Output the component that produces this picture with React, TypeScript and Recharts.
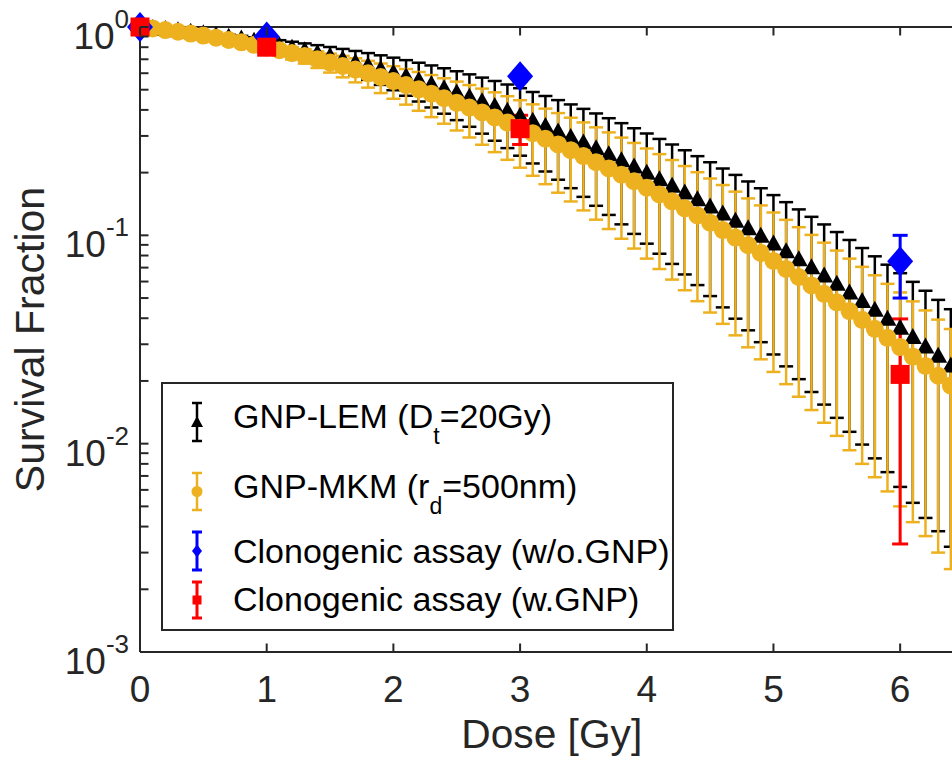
import React from 'react';
import { ComposedChart, Scatter, XAxis, YAxis, ErrorBar, ReferenceLine } from 'recharts';

// dose grid of the two model curves [Gy]
const doses = [
  0, 0.1, 0.2, 0.3, 0.4, 0.5, 0.6, 0.7, 0.8, 0.9,
  1.0, 1.1, 1.2, 1.3, 1.4, 1.5, 1.6, 1.7, 1.8, 1.9,
  2.0, 2.1, 2.2, 2.3, 2.4, 2.5, 2.6, 2.7, 2.8, 2.9,
  3.0, 3.1, 3.2, 3.3, 3.4, 3.5, 3.6, 3.7, 3.8, 3.9,
  4.0, 4.1, 4.2, 4.3, 4.4, 4.5, 4.6, 4.7, 4.8, 4.9,
  5.0, 5.1, 5.2, 5.3, 5.4, 5.5, 5.6, 5.7, 5.8, 5.9,
  6.0, 6.1, 6.2, 6.3, 6.4, 6.5,
];

// GNP-LEM (Dt = 20 Gy)
const lemSurvival = [
  1, 0.9893, 0.9772, 0.9639, 0.9492, 0.9334, 0.9165, 0.8984, 0.8795, 0.8596,
  0.8389, 0.8174, 0.7953, 0.7727, 0.7495, 0.7259, 0.702, 0.6779, 0.6536, 0.6292,
  0.6048, 0.5805, 0.5563, 0.5324, 0.5086, 0.4852, 0.4622, 0.4396, 0.4175, 0.3959,
  0.3748, 0.3544, 0.3345, 0.3153, 0.2967, 0.2788, 0.2616, 0.2451, 0.2292, 0.2141,
  0.1997, 0.1859, 0.1729, 0.1605, 0.1488, 0.1377, 0.1272, 0.1174, 0.1082, 0.0995,
  0.0914, 0.0839, 0.0768, 0.0702, 0.0641, 0.0585, 0.0532, 0.0484, 0.0439, 0.0398,
  0.036, 0.0325, 0.0293, 0.0264, 0.0237, 0.0213,
];
const lemError = [
  0, 0.0005, 0.0019, 0.0042, 0.0074, 0.0114, 0.016, 0.0213, 0.0272, 0.0334,
  0.0401, 0.0471, 0.0542, 0.0614, 0.0687, 0.0758, 0.0828, 0.0895, 0.0959, 0.102,
  0.1077, 0.1128, 0.1175, 0.1215, 0.1251, 0.128, 0.1303, 0.132, 0.1331, 0.1337,
  0.1337, 0.1331, 0.132, 0.1304, 0.1283, 0.1258, 0.123, 0.1198, 0.1163, 0.1125,
  0.1085, 0.1043, 0.1, 0.0956, 0.0911, 0.0866, 0.0821, 0.0776, 0.0732, 0.0688,
  0.0646, 0.0604, 0.0564, 0.0525, 0.0487, 0.0452, 0.0418, 0.0385, 0.0354, 0.0325,
  0.0298, 0.0273, 0.0249, 0.0226, 0.0205, 0.0186,
];

// GNP-MKM (rd = 500 nm)
const mkmSurvival = [
  1, 0.9841, 0.967, 0.9489, 0.9297, 0.9096, 0.8887, 0.867, 0.8445, 0.8215,
  0.7979, 0.7738, 0.7494, 0.7248, 0.6999, 0.6748, 0.6498, 0.6247, 0.5997, 0.5749,
  0.5504, 0.5261, 0.5021, 0.4785, 0.4554, 0.4328, 0.4107, 0.3891, 0.3682, 0.3479,
  0.3282, 0.3092, 0.2908, 0.2732, 0.2562, 0.24, 0.2244, 0.2096, 0.1954, 0.182,
  0.1692, 0.1571, 0.1456, 0.1348, 0.1246, 0.115, 0.106, 0.0976, 0.0897, 0.0823,
  0.0754, 0.069, 0.0631, 0.0575, 0.0524, 0.0477, 0.0433, 0.0393, 0.0356, 0.0322,
  0.0291, 0.0262, 0.0236, 0.0212, 0.019, 0.0171,
];
const mkmError = [
  0, 0.0005, 0.0019, 0.0042, 0.0073, 0.0111, 0.0156, 0.0205, 0.0261, 0.032,
  0.0381, 0.0446, 0.051, 0.0576, 0.0641, 0.0705, 0.0766, 0.0825, 0.088, 0.0932,
  0.098, 0.1022, 0.106, 0.1093, 0.112, 0.1142, 0.1158, 0.1169, 0.1174, 0.1175,
  0.117, 0.1161, 0.1148, 0.113, 0.1108, 0.1083, 0.1055, 0.1024, 0.0991, 0.0956,
  0.0919, 0.0882, 0.0843, 0.0803, 0.0763, 0.0724, 0.0684, 0.0645, 0.0607, 0.0569,
  0.0533, 0.0497, 0.0463, 0.043, 0.0398, 0.0368, 0.034, 0.0313, 0.0287, 0.0263,
  0.0241, 0.022, 0.02, 0.0182, 0.0165, 0.0149,
];

// clonogenic assay
const assayDoses = [0, 1, 3, 6];
const assayNoGnp = [1.0, 0.9, 0.58, 0.075];
const assayNoGnpError = [0, 0, 0.03, 0.025];
const assayGnp = [1.0, 0.8, 0.325, 0.0215];
const assayGnpError = [0, 0, 0.052, 0.0182];

const xTicks = [0, 1, 2, 3, 4, 5, 6];
const yMajorTicks = [0.001, 0.01, 0.1, 1];
const yMajorLabels = ['-3', '-2', '-1', '0'];
const yMinorTicks = [
  0.002, 0.003, 0.004, 0.005, 0.006, 0.007, 0.008, 0.009,
  0.02, 0.03, 0.04, 0.05, 0.06, 0.07, 0.08, 0.09,
  0.2, 0.3, 0.4, 0.5, 0.6, 0.7, 0.8, 0.9,
];

const FONT = '"Liberation Sans", Arial, Helvetica, sans-serif';
const AXIS = '#262626';
const ORANGE = '#EDB120';
const PLOT_TOP = 27;
const TICK_LEN = 8.5;

const lemRows = doses.map((x, i) => ({ x, y: lemSurvival[i], err: lemError[i] }));
const mkmRows = doses.map((x, i) => ({ x, y: mkmSurvival[i], err: mkmError[i] }));
const noGnpRows = assayDoses.map((x, i) => ({ x, y: assayNoGnp[i], err: assayNoGnpError[i] }));
const gnpRows = assayDoses.map((x, i) => ({ x, y: assayGnp[i], err: assayGnpError[i] }));

const XTick = ({ x, y, payload }: any) => (
  <g>
    <line x1={x} x2={x} y1={y} y2={y - TICK_LEN} stroke={AXIS} strokeWidth={2} />
    <line x1={x} x2={x} y1={PLOT_TOP} y2={PLOT_TOP + TICK_LEN} stroke={AXIS} strokeWidth={2} />
    <text x={x} y={y + 50} textAnchor="middle" fontSize={37} fill={AXIS} fontFamily={FONT}>
      {payload.value}
    </text>
  </g>
);

const YTick = ({ x, y, payload }: any) => {
  const idx = yMajorTicks.indexOf(payload.value);
  return (
    <g>
      <line x1={x} x2={x + TICK_LEN} y1={y} y2={y} stroke={AXIS} strokeWidth={2} />
      {idx >= 0 && (
        <text x={x - 11} y={y + 22} textAnchor="end" fontSize={37} fill={AXIS} fontFamily={FONT}>
          10
          <tspan dy={-21} fontSize={26}>{yMajorLabels[idx]}</tspan>
        </text>
      )}
    </g>
  );
};

const Triangle = ({ cx, cy }: any) => (
  <polygon points={`${cx},${cy - 9} ${cx - 9},${cy + 7} ${cx + 9},${cy + 7}`} fill="#000" />
);
const Dot = ({ cx, cy }: any) => <circle cx={cx} cy={cy} r={9} fill={ORANGE} />;
const Diamond = ({ cx, cy }: any) => (
  <polygon points={`${cx},${cy - 15} ${cx + 13},${cy} ${cx},${cy + 15} ${cx - 13},${cy}`} fill="#0000FF" />
);
const Square = ({ cx, cy }: any) => <rect x={cx - 9.5} y={cy - 9.5} width={19} height={19} fill="#FF0000" />;

const LegendIcon = ({ y1, y2, ym, color, sw, children }: any) => (
  <g>
    <line x1={197} x2={197} y1={y1} y2={y2} stroke={color} strokeWidth={sw} />
    <line x1={192} x2={202} y1={y1} y2={y1} stroke={color} strokeWidth={sw} />
    <line x1={192} x2={202} y1={y2} y2={y2} stroke={color} strokeWidth={sw} />
    {children(ym)}
  </g>
);

function LegendBox() {
  const t = { fontSize: 34, fill: '#000', fontFamily: FONT };
  return (
    <svg width={952} height={760} style={{ position: 'absolute', left: 0, top: 0, pointerEvents: 'none' }}>
      <rect x={162} y={383} width={511} height={247} fill="#fff" stroke={AXIS} strokeWidth={2} />
      <LegendIcon y1={403} y2={441} ym={422} color="#000" sw={2.5}>
        {(m: number) => <polygon points={`197,${m - 6} 191,${m + 5} 203,${m + 5}`} fill="#000" />}
      </LegendIcon>
      <LegendIcon y1={473} y2={510} ym={491.5} color={ORANGE} sw={2.5}>
        {(m: number) => <circle cx={197} cy={m} r={5.5} fill={ORANGE} />}
      </LegendIcon>
      <LegendIcon y1={532} y2={570} ym={551} color="#0000FF" sw={3}>
        {(m: number) => <polygon points={`197,${m - 6.5} 202,${m} 197,${m + 6.5} 192,${m}`} fill="#0000FF" />}
      </LegendIcon>
      <LegendIcon y1={582} y2={618} ym={600} color="#FF0000" sw={3}>
        {(m: number) => <rect x={192.5} y={m - 4.5} width={9} height={9} fill="#FF0000" />}
      </LegendIcon>
      <text x={233} y={428} {...t}>
        GNP-LEM (D<tspan dy={16} fontSize={23}>t</tspan>
        <tspan dy={-16}>=20Gy)</tspan>
      </text>
      <text x={233} y={498} {...t}>
        GNP-MKM (r<tspan dy={16} fontSize={23}>d</tspan>
        <tspan dy={-16}>=500nm)</tspan>
      </text>
      <text x={233} y={563} {...t}>Clonogenic assay (w/o.GNP)</text>
      <text x={233} y={611} {...t}>Clonogenic assay (w.GNP)</text>
    </svg>
  );
}

export default function App() {
  return (
    <div style={{ position: 'fixed', left: 0, top: 0, width: 952, height: 760, overflow: 'hidden', background: '#fff' }}>
      <ComposedChart width={990} height={760} margin={{ top: 27, right: 26.5, bottom: 0, left: 0 }}>
        <XAxis
          type="number"
          dataKey="x"
          domain={[0, 6.5]}
          ticks={xTicks}
          interval={0}
          height={108}
          tickLine={false}
          tickSize={0}
          tickMargin={0}
          axisLine={{ stroke: AXIS, strokeWidth: 2 }}
          tick={(p: any) => <XTick {...p} />}
          label={{
            content: ({ viewBox }: any) => (
              <text x={viewBox.x + viewBox.width / 2} y={viewBox.y + 96} textAnchor="middle" fontSize={40.7} fill={AXIS} fontFamily={FONT}>
                Dose [Gy]
              </text>
            ),
          }}
        />
        <YAxis
          type="number"
          dataKey="y"
          scale="log"
          domain={[0.001, 1]}
          ticks={[...yMinorTicks, ...yMajorTicks]}
          interval={0}
          width={140}
          tickLine={false}
          tickSize={0}
          tickMargin={0}
          axisLine={{ stroke: AXIS, strokeWidth: 2 }}
          tick={(p: any) => <YTick {...p} />}
          label={{
            content: ({ viewBox }: any) => {
              const cy = viewBox.y + viewBox.height / 2;
              return (
                <text x={44} y={cy} transform={`rotate(-90, 44, ${cy})`} textAnchor="middle" fontSize={41} fill={AXIS} fontFamily={FONT}>
                  Survival Fraction
                </text>
              );
            },
          }}
        />
        <ReferenceLine y={1} stroke={AXIS} strokeWidth={2} />
        <Scatter data={lemRows} shape={(p: any) => <Triangle {...p} />} isAnimationActive={false}>
          <ErrorBar dataKey="err" direction="y" width={7} stroke="#000" strokeWidth={2.5} isAnimationActive={false} />
        </Scatter>
        <Scatter data={mkmRows} shape={(p: any) => <Dot {...p} />} isAnimationActive={false}>
          <ErrorBar dataKey="err" direction="y" width={7} stroke={ORANGE} strokeWidth={2.5} isAnimationActive={false} />
        </Scatter>
        <Scatter data={noGnpRows} shape={(p: any) => <Diamond {...p} />} isAnimationActive={false}>
          <ErrorBar dataKey="err" direction="y" width={7.5} stroke="#0000FF" strokeWidth={3} isAnimationActive={false} />
        </Scatter>
        <Scatter data={gnpRows} shape={(p: any) => <Square {...p} />} isAnimationActive={false}>
          <ErrorBar dataKey="err" direction="y" width={8} stroke="#FF0000" strokeWidth={3} isAnimationActive={false} />
        </Scatter>
      </ComposedChart>
      <LegendBox />
    </div>
  );
}
